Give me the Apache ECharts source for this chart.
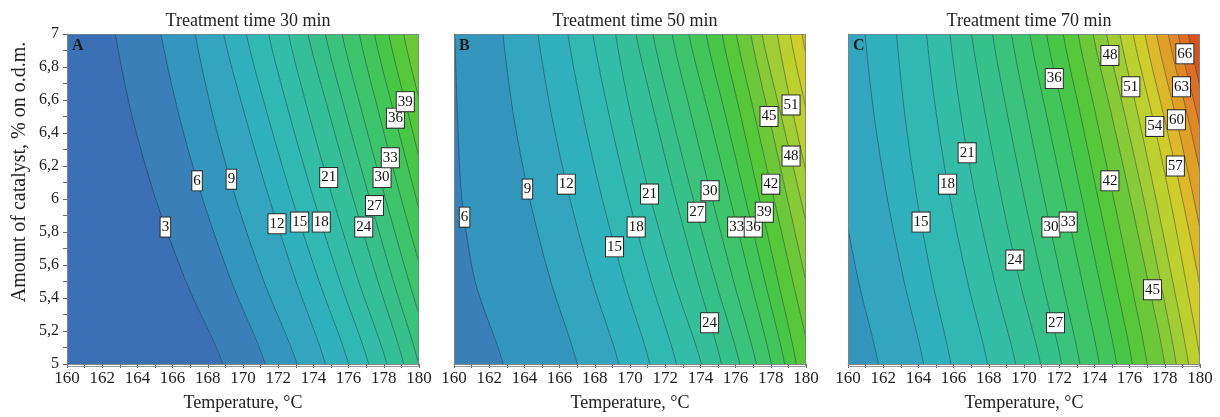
<!DOCTYPE html>
<html><head><meta charset="utf-8">
<script src="https://cdn.jsdelivr.net/npm/echarts@6/dist/echarts.min.js"></script>
<style>html,body{margin:0;padding:0;background:#fff}#c{width:1220px;height:417px}</style>
</head><body><div id="c"></div>
<script>
// catalyst values at which each contour line's temperature was read
const catalystLevels = [7, 6.5, 6, 5.5, 5];
const titles = ['Treatment time 30 min', 'Treatment time 50 min', 'Treatment time 70 min'];
const panelLetters = ['A', 'B', 'C'];
const xName = 'Temperature, °C';
const yName = 'Amount of catalyst, % on o.d.m.';

// Panel A (30 min)
const levelsA = [3, 6, 9, 12, 15, 18, 21, 24, 27, 30, 33, 36, 39, 42];
const linesA = [
  [162.75, 163.70, 165.04, 166.76, 168.86],
  [165.34, 166.38, 167.71, 169.34, 171.27],
  [167.29, 168.30, 169.60, 171.19, 173.07],
  [168.90, 170.13, 171.50, 173.02, 174.68],
  [170.19, 171.42, 172.80, 174.33, 176.00],
  [171.46, 172.67, 174.02, 175.51, 177.14],
  [172.59, 173.78, 175.11, 176.57, 178.18],
  [173.69, 174.95, 176.27, 177.67, 179.13],
  [174.68, 175.90, 177.20, 178.55, 179.98],
  [175.63, 176.83, 178.10, 179.43, 180.83],
  [176.61, 177.77, 178.99, 180.30, 181.60],
  [177.47, 178.63, 179.85, 181.10, 182.40],
  [178.28, 179.43, 180.60, 181.90, 183.20],
  [179.13, 180.25, 181.40, 182.70, 184.00]
];
const labelsA = [[165.59,5.83,3],[167.39,6.11,6],[169.34,6.12,9],[171.93,5.85,12],[173.22,5.86,15],[174.45,5.86,18],[174.87,6.13,21],[176.86,5.83,24],[177.47,5.96,27],[177.9,6.13,30],[178.37,6.25,33],[178.66,6.49,36],[179.22,6.59,39]];

// Panel B (50 min)
const levelsB = [6, 9, 12, 15, 18, 21, 24, 27, 30, 33, 36, 39, 42, 45, 48, 51, 54, 57];
const linesB = [
  [160.05, 160.20, 160.45, 161.20, 162.80],
  [162.78, 163.39, 164.30, 165.50, 167.00],
  [164.77, 165.56, 166.59, 167.86, 169.37],
  [166.47, 167.35, 168.42, 169.68, 171.13],
  [167.89, 168.83, 169.93, 171.20, 172.64],
  [169.18, 170.07, 171.18, 172.51, 174.06],
  [170.34, 171.43, 172.60, 173.86, 175.20],
  [171.30, 172.40, 173.59, 174.87, 176.24],
  [172.39, 173.50, 174.67, 175.89, 177.18],
  [173.34, 174.51, 175.69, 176.86, 178.03],
  [174.32, 175.44, 176.56, 177.67, 178.79],
  [175.23, 176.30, 177.36, 178.42, 179.45],
  [176.04, 177.10, 178.18, 179.25, 180.30],
  [176.86, 177.90, 178.95, 180.00, 181.05],
  [177.50, 178.60, 179.70, 180.80, 181.90],
  [178.37, 179.30, 180.35, 181.40, 182.50],
  [179.10, 180.10, 181.20, 182.30, 183.40],
  [179.77, 180.80, 181.90, 183.00, 184.10]
];
const labelsB = [[160.6,5.89,6],[164.17,6.06,9],[166.38,6.09,12],[169.12,5.71,15],[170.35,5.83,18],[171.11,6.03,21],[174.52,5.25,24],[173.79,5.92,27],[174.55,6.05,30],[176.06,5.83,33],[177.0,5.83,36],[177.63,5.92,39],[178.0,6.09,42],[177.9,6.5,45],[179.15,6.26,48],[179.15,6.57,51]];

// Panel C (70 min)
const levelsC = [9, 12, 15, 18, 21, 24, 27, 30, 33, 36, 39, 42, 45, 48, 51, 54, 57, 60, 63, 66, 69];
const linesC = [
  [158.50, 159.00, 159.70, 160.60, 161.73],
  [160.97, 161.49, 162.24, 163.19, 164.30],
  [162.76, 163.24, 163.92, 164.80, 165.85],
  [164.46, 165.04, 165.81, 166.79, 167.93],
  [165.79, 166.43, 167.27, 168.32, 169.53],
  [167.02, 167.82, 168.73, 169.76, 170.95],
  [168.21, 169.08, 170.03, 171.06, 172.14],
  [169.29, 170.20, 171.15, 172.15, 173.18],
  [170.33, 171.30, 172.30, 173.30, 174.28],
  [171.28, 172.30, 173.30, 174.30, 175.27],
  [172.23, 173.23, 174.22, 175.20, 176.16],
  [173.08, 174.10, 175.10, 176.07, 177.00],
  [173.93, 175.00, 176.05, 177.05, 178.00],
  [174.69, 175.75, 176.80, 177.75, 178.65],
  [175.45, 176.50, 177.50, 178.45, 179.35],
  [176.20, 177.30, 178.30, 179.20, 180.05],
  [176.87, 177.95, 179.00, 179.95, 180.80],
  [177.53, 178.62, 179.65, 180.60, 181.50],
  [178.19, 179.30, 180.35, 181.30, 182.20],
  [178.76, 179.86, 180.90, 181.90, 182.80],
  [179.33, 180.40, 181.45, 182.45, 183.40]
];
const labelsC = [[164.15,5.86,15],[165.66,6.09,18],[166.77,6.28,21],[169.48,5.63,24],[171.79,5.25,27],[171.53,5.83,30],[172.51,5.86,33],[171.72,6.73,36],[174.88,6.11,42],[177.3,5.45,45],[174.88,6.87,48],[176.07,6.68,51],[177.43,6.44,54],[178.6,6.2,57],[178.66,6.48,60],[178.95,6.68,63],[179.14,6.88,66]];

// colour of each 3-unit band (band k covers 3k..3k+3)
const bandColors = ['#3b70b4','#3a80b8','#3596bd','#33a5bf','#30b0bc','#31b8b3','#33bda6','#35bf98','#38c08a','#3bc27b','#3ec46b','#42c559','#48c746','#56c83a','#6cc83a','#88ca38','#a2cd34','#bcd030','#d0cc2c','#dcb82a','#e0a028','#e08828','#de6e24','#d8521e','#d03818'];

const panels = [
  {levels: levelsA, lines: linesA, labels: labelsA},
  {levels: levelsB, lines: linesB, labels: labelsB},
  {levels: levelsC, lines: linesC, labels: labelsC}
];

const FONT = 'Liberation Serif';
const gridLefts = [67, 454, 848];
const gridTop = 34, gridW = 352, gridH = 333;

const chart = echarts.init(document.getElementById('c'));
const grid = [], xAxis = [], yAxis = [], series = [], title = [], graphic = [];

panels.forEach((p, k) => {
  grid.push({left: gridLefts[k], top: gridTop, width: gridW, height: gridH, show: true,
    backgroundColor: bandColors[p.levels[0] / 3 - 1], borderWidth: 0});
  title.push({text: titles[k], left: gridLefts[k] + gridW / 2, top: 7, textAlign: 'center',
    textStyle: {fontFamily: FONT, fontSize: 18, fontWeight: 'normal', color: '#222'}});
  xAxis.push({type: 'value', gridIndex: k, min: 160, max: 180, interval: 2,
    name: xName, nameLocation: 'middle', nameGap: 30,
    nameTextStyle: {fontFamily: FONT, fontSize: 18, color: '#222'},
    axisLine: {show: true, lineStyle: {color: '#888', width: 1}},
    axisTick: {show: true, length: 4, lineStyle: {color: '#666'}},
    minorTick: {show: true, splitNumber: 2, length: 4, lineStyle: {color: '#666'}},
    splitLine: {show: false},
    axisLabel: {fontFamily: FONT, fontSize: 17, color: '#222', margin: 6}});
  yAxis.push({type: 'value', gridIndex: k, min: 5, max: 7, interval: 0.2,
    axisLine: {show: true, lineStyle: {color: '#888', width: 1}},
    axisTick: {show: k === 0, length: 4, lineStyle: {color: '#666'}},
    minorTick: {show: k === 0, splitNumber: 2, length: 4, lineStyle: {color: '#666'}},
    splitLine: {show: false},
    axisLabel: {show: k === 0, fontFamily: FONT, fontSize: 16, color: '#222', margin: 8,
      formatter: v => String(Math.round(v * 10) / 10).replace('.', ',')}});

  series.push({
    type: 'custom', xAxisIndex: k, yAxisIndex: k, clip: true, silent: true,
    data: p.lines.map((ln, i) => [ln[0], 7, i]),
    encode: {x: 0, y: 1},
    renderItem: (params, api) => {
      const i = api.value(2);
      const pts = p.lines[i].map((t, j) => api.coord([t, catalystLevels[j]]));
      const first = pts[0], last = pts[pts.length - 1];
      const farX = api.coord([200, 5])[0] + 400;
      const poly = [[first[0], first[1] - 20]].concat(pts,
        [[last[0], last[1] + 20], [farX, last[1] + 20], [farX, first[1] - 20]]);
      const line = [[first[0], first[1] - 20]].concat(pts, [[last[0], last[1] + 20]]);
      return {type: 'group', children: [
        {type: 'polygon', shape: {points: poly},
          style: {fill: bandColors[p.levels[i] / 3], stroke: null}},
        {type: 'polyline', shape: {points: line, smooth: 0.3},
          style: {stroke: 'rgba(25,45,60,0.55)', lineWidth: 0.8, fill: null}}
      ]};
    }
  });

  series.push({
    type: 'scatter', xAxisIndex: k, yAxisIndex: k, symbolSize: 0, silent: true, z: 5,
    itemStyle: {opacity: 1},
    data: p.labels,
    label: {show: true, position: 'inside', formatter: d => String(d.value[2]),
      fontFamily: FONT, fontSize: 15, color: '#111', opacity: 1,
      backgroundColor: '#ffffff', borderColor: '#2b2b2b', borderWidth: 1,
      padding: [3, 1, 1, 1]}
  });

  graphic.push({type: 'rect', z: 8, silent: true,
    shape: {x: gridLefts[k] + 0.5, y: gridTop + 0.5, width: gridW - 1, height: gridH - 1},
    style: {fill: null, stroke: 'rgba(120,130,135,0.8)', lineWidth: 1}});
  graphic.push({type: 'text', left: gridLefts[k] + 5, top: 38, z: 10,
    style: {text: panelLetters[k], font: 'bold 16px "Liberation Serif"', fill: '#1a1a1a'}});
});

graphic.push({type: 'text', x: 20, y: 172, rotation: Math.PI / 2, z: 10,
  style: {text: yName, font: '20px "Liberation Serif"', fill: '#222', align: 'center', verticalAlign: 'middle'}});

chart.setOption({animation: false, backgroundColor: '#fff', title, grid, xAxis, yAxis, series, graphic});
</script></body></html>
